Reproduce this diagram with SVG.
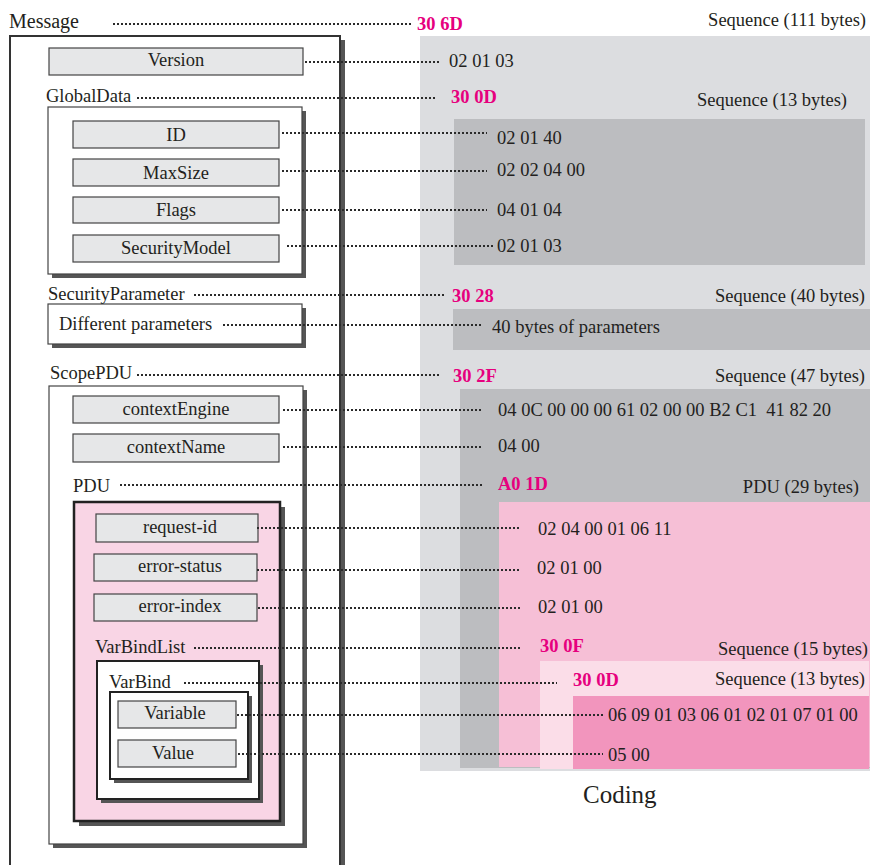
<svg xmlns="http://www.w3.org/2000/svg" width="870" height="865" viewBox="0 0 870 865">
<style>
text{font-family:"Liberation Serif","Times New Roman",serif;font-size:18.5px;fill:#231f20}
.c{text-anchor:middle}
.r{text-anchor:end}
.hx{font-weight:bold;fill:#e6007e}
.big{font-size:20px}
.cod{font-size:25px}
.sh{fill:#555}
.fld{fill:#e6e7e8;stroke:#444;stroke-width:1.2}
.grp{fill:#fff;stroke:#444;stroke-width:1.2}
.thk{fill:#fff;stroke:#222;stroke-width:2}
.dot{stroke:#2a2a2a;stroke-width:2;stroke-dasharray:2 2;fill:none}
</style>
<rect width="870" height="865" fill="#fff"/>
<g id="coding">
<rect x="420" y="36" width="450" height="735" fill="#dcdde0"/>
<rect x="454" y="119" width="411" height="146" fill="#bcbdc0"/>
<rect x="453" y="309" width="417" height="41" fill="#bcbdc0"/>
<rect x="460" y="389" width="410" height="379" fill="#bcbdc0"/>
<rect x="499" y="502" width="371" height="265" fill="#f6bfd6"/>
<rect x="540" y="661" width="329" height="108" fill="#fbdde8"/>
<rect x="573" y="696" width="296" height="73" fill="#f295bd"/>
<text x="866" y="26" class="r">Sequence (111 bytes)</text>
<text x="417" y="30" class="hx">30 6D</text>
<text x="449" y="67">02 01 03</text>
<text x="451" y="103" class="hx">30 0D</text>
<text x="847" y="106" class="r">Sequence (13 bytes)</text>
<text x="497" y="144">02 01 40</text>
<text x="497" y="176">02 02 04 00</text>
<text x="497" y="216">04 01 04</text>
<text x="497" y="252">02 01 03</text>
<text x="452" y="302" class="hx">30 28</text>
<text x="865" y="302" class="r">Sequence (40 bytes)</text>
<text x="492" y="333">40 bytes of parameters</text>
<text x="453" y="382" class="hx">30 2F</text>
<text x="865" y="382" class="r">Sequence (47 bytes)</text>
<text x="498" y="416" xml:space="preserve">04 0C 00 00 00 61 02 00 00 B2 C1  41 82 20</text>
<text x="498" y="452">04 00</text>
<text x="498" y="490" class="hx">A0 1D</text>
<text x="859" y="493" class="r">PDU (29 bytes)</text>
<text x="538" y="535">02 04 00 01 06 11</text>
<text x="537" y="574">02 01 00</text>
<text x="538" y="613">02 01 00</text>
<text x="540" y="652" class="hx">30 0F</text>
<text x="868" y="655" class="r">Sequence (15 bytes)</text>
<text x="573" y="686" class="hx">30 0D</text>
<text x="865" y="685" class="r">Sequence (13 bytes)</text>
<text x="608" y="721">06 09 01 03 06 01 02 01 07 01 00</text>
<text x="608" y="761">05 00</text>
<text x="583" y="803" class="cod">Coding</text>
</g>
<g id="message">
<rect x="14" y="40" width="331" height="840" class="sh"/>
<rect x="10" y="36" width="330" height="840" fill="#fff" stroke="#333" stroke-width="2"/>
<text x="9" y="28" class="big">Message</text>
</g>
<g id="version">
<rect x="49" y="48" width="254" height="27" class="fld"/>
<text x="176" y="66" class="c">Version</text>
</g>
<g id="globaldata">
<text x="46" y="102">GlobalData</text>
<rect x="52" y="111" width="254" height="167" class="sh"/>
<rect x="48" y="107" width="254" height="167" class="grp"/>
</g>
<g id="id">
<rect x="73" y="121" width="206" height="27" class="fld"/>
<text x="176" y="141" class="c">ID</text>
</g>
<g id="maxsize">
<rect x="73" y="159" width="206" height="27" class="fld"/>
<text x="176" y="179" class="c">MaxSize</text>
</g>
<g id="flags">
<rect x="73" y="197" width="206" height="26" class="fld"/>
<text x="176" y="216" class="c">Flags</text>
</g>
<g id="securitymodel">
<rect x="73" y="235" width="206" height="27" class="fld"/>
<text x="176" y="254" class="c">SecurityModel</text>
</g>
<g id="securityparameter">
<text x="48" y="300">SecurityParameter</text>
<rect x="52" y="308" width="254" height="40" class="sh"/>
<rect x="48" y="304" width="254" height="40" class="grp"/>
<text x="59" y="330">Different parameters</text>
</g>
<g id="scopepdu">
<text x="50" y="379">ScopePDU</text>
<rect x="53" y="390" width="254" height="458" class="sh"/>
<rect x="49" y="386" width="254" height="458" class="grp"/>
</g>
<g id="contextengine">
<rect x="73" y="396" width="206" height="27" class="fld"/>
<text x="176" y="415" class="c">contextEngine</text>
</g>
<g id="contextname">
<rect x="73" y="434" width="206" height="28" class="fld"/>
<text x="176" y="453" class="c">contextName</text>
</g>
<g id="pdu">
<text x="73" y="492">PDU</text>
<rect x="79" y="507" width="206" height="319" class="sh"/>
<rect x="74" y="502" width="206" height="319" fill="#f9d5e5" stroke="#222" stroke-width="2.5"/>
</g>
<g id="request-id">
<rect x="96" y="514" width="162" height="28" class="fld"/>
<text x="180" y="533" class="c">request-id</text>
</g>
<g id="error-status">
<rect x="94" y="554" width="163" height="27" class="fld"/>
<text x="180" y="572" class="c">error-status</text>
</g>
<g id="error-index">
<rect x="94" y="594" width="163" height="27" class="fld"/>
<text x="180" y="612" class="c">error-index</text>
</g>
<g id="varbindlist">
<text x="95" y="653">VarBindList</text>
<rect x="101" y="665" width="162" height="138" class="sh"/>
<rect x="97" y="661" width="162" height="138" class="thk"/>
</g>
<g id="varbind">
<text x="109" y="688">VarBind</text>
<rect x="114" y="696" width="138" height="87" class="sh"/>
<rect x="110" y="692" width="138" height="87" class="thk"/>
</g>
<g id="variable">
<rect x="118" y="701" width="118" height="27" class="fld"/>
<text x="175" y="719" class="c">Variable</text>
</g>
<g id="value">
<rect x="118" y="740" width="118" height="27" class="fld"/>
<text x="173" y="759" class="c">Value</text>
</g>
<g id="connectors">
<line x1="113" y1="24" x2="413" y2="24" class="dot"/>
<line x1="305" y1="62" x2="440" y2="62" class="dot"/>
<line x1="137" y1="98" x2="437" y2="98" class="dot"/>
<line x1="282" y1="133" x2="487" y2="133" class="dot"/>
<line x1="282" y1="171" x2="487" y2="171" class="dot"/>
<line x1="282" y1="210" x2="487" y2="210" class="dot"/>
<line x1="287" y1="246" x2="493" y2="246" class="dot"/>
<line x1="194" y1="295" x2="444" y2="295" class="dot"/>
<line x1="223" y1="325" x2="483" y2="325" class="dot"/>
<line x1="137" y1="375" x2="441" y2="375" class="dot"/>
<line x1="283" y1="410" x2="483" y2="410" class="dot"/>
<line x1="283" y1="447" x2="483" y2="447" class="dot"/>
<line x1="120" y1="485" x2="483" y2="485" class="dot"/>
<line x1="257" y1="528" x2="521" y2="528" class="dot"/>
<line x1="257" y1="570" x2="521" y2="570" class="dot"/>
<line x1="258" y1="608" x2="521" y2="608" class="dot"/>
<line x1="194" y1="648" x2="520" y2="648" class="dot"/>
<line x1="184" y1="683" x2="557" y2="683" class="dot"/>
<line x1="237" y1="715" x2="603" y2="715" class="dot"/>
<line x1="238" y1="754" x2="603" y2="754" class="dot"/>
</g>
</svg>
